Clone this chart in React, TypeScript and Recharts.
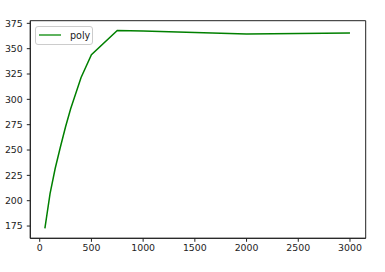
import { LineChart, Line, XAxis, YAxis, ReferenceArea } from 'recharts';

const sizes = [50, 100, 150, 200, 250, 300, 400, 500, 750, 1000, 2000, 3000];
const polyScores = [172.6, 207, 232, 253, 273, 291, 321.5, 344, 368, 367.5, 364.5, 365.5];
const xTicks = [0, 500, 1000, 1500, 2000, 2500, 3000];
const yTicks = [175, 200, 225, 250, 275, 300, 325, 350, 375];

const X_DOMAIN = [-91, 3152];
const Y_DOMAIN = [162.9, 377.6];

const data = sizes.map((x, i) => ({ x, poly: polyScores[i] }));

const FONT = '"DejaVu Sans", sans-serif';
const tickStyle = { fontSize: 9.4, fill: '#222', fontFamily: FONT };

// matplotlib-style legend box, overlaid in the upper left of the axes
function LegendBox() {
  return (
    <div
      style={{
        position: 'absolute',
        left: 35,
        top: 25.5,
        display: 'flex',
        alignItems: 'center',
        border: '1px solid #ccc',
        borderRadius: 3,
        background: '#fff',
        width: 58,
        height: 19,
        boxSizing: 'border-box',
        fontFamily: FONT,
        fontSize: 9.6,
        color: '#222',
      }}
    >
      <svg width={28} height={10} style={{ marginLeft: 3 }}>
        <line x1={0} y1={5} x2={22} y2={5} stroke="#2a9a2a" strokeWidth={1.5} />
      </svg>
      <span style={{ marginLeft: 3 }}>poly</span>
    </div>
  );
}

export default function App() {
  return (
    <div style={{ position: 'fixed', left: 0, top: 0, width: 385, height: 272, background: '#fff' }}>
      <LineChart width={385} height={272} data={data} margin={{ top: 20.7, right: 19.3, bottom: 0, left: 0 }}>
        <XAxis
          dataKey="x"
          type="number"
          domain={X_DOMAIN}
          ticks={xTicks}
          allowDataOverflow
          height={33.7}
          tick={tickStyle}
          tickSize={3.5}
          tickMargin={3}
          stroke="#222"
          tickLine={{ stroke: '#222' }}
        />
        <YAxis
          type="number"
          domain={Y_DOMAIN}
          ticks={yTicks}
          allowDataOverflow
          width={30.3}
          tick={tickStyle}
          tickSize={3.5}
          tickMargin={4}
          stroke="#222"
          tickLine={{ stroke: '#222' }}
        />
        <ReferenceArea
          x1={X_DOMAIN[0]}
          x2={X_DOMAIN[1]}
          y1={Y_DOMAIN[0]}
          y2={Y_DOMAIN[1]}
          fill="none"
          stroke="#222"
          strokeWidth={1}
          ifOverflow="visible"
        />
        <Line
          dataKey="poly"
          name="poly"
          type="linear"
          stroke="#008000"
          strokeWidth={1.5}
          dot={false}
          isAnimationActive={false}
        />
      </LineChart>
      <LegendBox />
    </div>
  );
}
